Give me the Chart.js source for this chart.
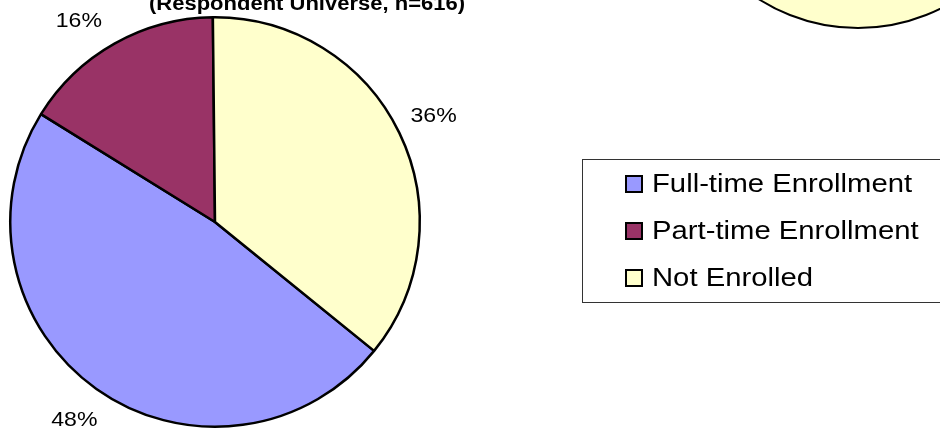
<!DOCTYPE html>
<html>
<head>
<meta charset="utf-8">
<title>Enrollment Status</title>
<script src="https://cdn.jsdelivr.net/npm/chart.js@4.4.0/dist/chart.umd.min.js"></script>
<style>
  html, body { margin: 0; padding: 0; background: #fff; }
  #wrap { position: relative; width: 940px; height: 431px; overflow: hidden; }
</style>
</head>
<body>
<div id="wrap"><canvas id="enrollChart"></canvas></div>
<script>
// ==========================
// Data
// ==========================
const categories  = ["Full-time Enrollment", "Part-time Enrollment", "Not Enrolled"];
const percents    = [48, 16, 36];
const sliceColors = ["#9999FF", "#993366", "#FFFFCC"];
const titleText   = "(Respondent Universe, n=616)";

const FONT = "'Liberation Sans', Arial, sans-serif";

// draw text with a little horizontal stretch (the original text is wide)
function stretchText(ctx, text, x, y, sx, align) {
  ctx.save();
  ctx.translate(x, y);
  ctx.scale(sx, 1);
  ctx.textAlign = align;
  ctx.fillText(text, 0, 0);
  ctx.restore();
}

// ==========================
// Plugins
// ==========================
// neighbouring pie that peeks in at the top right + cut-off title
const backdrop = {
  id: "backdrop",
  beforeDraw(chart) {
    const ctx = chart.ctx;
    ctx.save();
    ctx.beginPath();
    ctx.arc(858, -157, 185, 0, Math.PI * 2);
    ctx.fillStyle = sliceColors[2];
    ctx.fill();
    ctx.lineWidth = 2;
    ctx.strokeStyle = "#000";
    ctx.stroke();

    ctx.fillStyle = "#000";
    ctx.font = "bold 20px " + FONT;
    ctx.textBaseline = "alphabetic";
    stretchText(ctx, titleText, 307, 9.5, 1.1, "center");
    ctx.restore();
  }
};

// percentage labels outside each slice
const sliceLabels = {
  id: "sliceLabels",
  afterDatasetsDraw(chart) {
    const ctx = chart.ctx;
    const meta = chart.getDatasetMeta(0);
    const minY = 21;
    ctx.save();
    ctx.fillStyle = "#000";
    ctx.font = "21px " + FONT;
    ctx.textBaseline = "middle";
    meta.data.forEach((arc, i) => {
      const p = arc.getProps(["x", "y", "startAngle", "endAngle", "outerRadius"], true);
      const mid = (p.startAngle + p.endAngle) / 2;
      const R = p.outerRadius + 38;
      let lx = p.x + R * Math.cos(mid);
      let ly = p.y + R * Math.sin(mid);
      if (ly < minY) {
        ly = minY;
        lx = p.x + Math.sign(Math.cos(mid)) * Math.sqrt(R * R - (ly - p.y) * (ly - p.y));
      }
      stretchText(ctx, percents[i] + "%", lx, ly, 1.1, "center");
    });
    ctx.restore();
  }
};

// boxed legend on the right
const boxLegend = {
  id: "boxLegend",
  afterDraw(chart) {
    const ctx = chart.ctx;
    const labels = chart.data.labels;
    const colors = chart.data.datasets[0].backgroundColor;
    ctx.save();
    ctx.lineWidth = 1;
    ctx.strokeStyle = "#333";
    ctx.strokeRect(582.5, 159.5, 420, 143);

    ctx.font = "25px " + FONT;
    ctx.textBaseline = "middle";
    labels.forEach((lab, i) => {
      const rowY = 184 + i * 47;
      ctx.fillStyle = colors[i];
      ctx.fillRect(626, rowY - 8, 16, 16);
      ctx.lineWidth = 2;
      ctx.strokeStyle = "#000";
      ctx.strokeRect(626, rowY - 8, 16, 16);
      ctx.fillStyle = "#000";
      stretchText(ctx, lab, 652, rowY + 1, 1.17, "left");
    });
    ctx.restore();
  }
};

// ==========================
// Chart.js – Pie
// ==========================
const ctx = document.getElementById("enrollChart").getContext("2d");
new Chart(ctx, {
  type: "pie",
  data: {
    labels: categories,
    datasets: [{
      data: percents,
      backgroundColor: sliceColors,
      borderColor: "#000",
      borderWidth: 2.5
    }]
  },
  options: {
    responsive: true,
    maintainAspectRatio: false,
    animation: false,
    rotation: 129,
    layout: { padding: { left: 9, right: 519, top: 16, bottom: 3 } },
    plugins: {
      legend: { display: false },
      title: { display: false },
      tooltip: { enabled: false }
    }
  },
  plugins: [backdrop, sliceLabels, boxLegend]
});
</script>
</body>
</html>
